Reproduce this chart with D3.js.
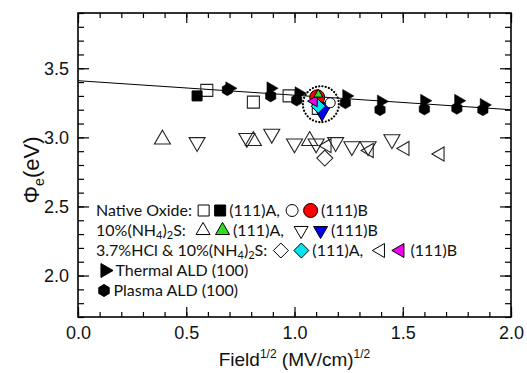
<!DOCTYPE html>
<html><head><meta charset="utf-8">
<script src="https://cdn.jsdelivr.net/npm/d3@7"></script>
<style>body{margin:0;background:#fff}svg{display:block}</style>
</head><body>
<svg id="c" width="527" height="373"></svg>
<script>
// ---------- data ----------
const xMajorTicks = [0.0, 0.5, 1.0, 1.5, 2.0];
const yMajorTicks = [2.0, 2.5, 3.0, 3.5];
const xDomain = [0, 2.0];
const yDomain = [1.7, 3.9];

const fitX = [0.0, 2.0];
const fitY = [3.41, 3.20];

const thermalX = [0.70, 0.89, 1.02, 1.24, 1.40, 1.60, 1.757, 1.875];
const thermalY = [3.355, 3.355, 3.32, 3.30, 3.26, 3.265, 3.265, 3.235];
const plasmaX  = [0.69, 0.89, 1.01, 1.235, 1.395, 1.60, 1.75, 1.87];
const plasmaY  = [3.345, 3.30, 3.27, 3.25, 3.20, 3.205, 3.21, 3.20];

const nativeAOpenX = [0.595, 0.81, 0.975, 1.11];
const nativeAOpenY = [3.34, 3.255, 3.30, 3.21];
const nativeAFillX = [0.55];
const nativeAFillY = [3.30];
const nativeBOpenX = [1.165];
const nativeBOpenY = [3.25];
const nativeBFillX = [1.105];
const nativeBFillY = [3.29];

const nh4AOpenX = [0.39, 0.81, 1.07];
const nh4AOpenY = [2.985, 2.975, 2.975];
const nh4AFillX = [1.11];
const nh4AFillY = [3.31];
const nh4BOpenX = [0.55, 0.78, 0.895, 1.00, 1.10, 1.19, 1.265, 1.34, 1.45];
const nh4BOpenY = [2.965, 2.995, 3.025, 2.955, 2.955, 2.965, 2.935, 2.935, 2.985];
const nh4BFillX = [1.127];
const nh4BFillY = [3.205];

const hclAOpenX = [1.14];
const hclAOpenY = [2.85];
const hclAFillX = [1.11];
const hclAFillY = [3.225];
const hclBOpenX = [1.15, 1.345, 1.51, 1.672];
const hclBOpenY = [2.94, 2.905, 2.92, 2.88];
const hclBFillX = [1.09];
const hclBFillY = [3.262];

const highlightX = [1.122];
const highlightY = [3.24];

// ---------- layout ----------
const W = 527, H = 373;
const m = {l: 78, r: 16, t: 13, b: 56};
const svg = d3.select("#c");
const x = d3.scaleLinear().domain(xDomain).range([m.l, W - m.r]);
const y = d3.scaleLinear().domain(yDomain).range([H - m.b, m.t]);
const x0 = m.l, x1 = W - m.r, y0 = H - m.b, y1 = m.t;

// ---------- shapes ----------
function shape(type, s) {
  const p = d3.path();
  const h = s / 2;
  if (type === "square") { p.rect(-h, -h, s, s); }
  else if (type === "circle") { p.arc(0, 0, h, 0, 2 * Math.PI); }
  else if (type === "diamond") { p.moveTo(0, -h); p.lineTo(h, 0); p.lineTo(0, h); p.lineTo(-h, 0); p.closePath(); }
  else {
    const th = s * 0.866;
    let pts;
    if (type === "up") pts = [[0, -th * 2 / 3], [h, th / 3], [-h, th / 3]];
    if (type === "down") pts = [[0, th * 2 / 3], [h, -th / 3], [-h, -th / 3]];
    if (type === "left") pts = [[-th * 2 / 3, 0], [th / 3, -h], [th / 3, h]];
    if (type === "right") pts = [[th * 2 / 3, 0], [-th / 3, -h], [-th / 3, h]];
    if (type === "hex") pts = d3.range(6).map(i => { const a = Math.PI / 2 + i * Math.PI / 3; return [h * Math.cos(a), h * Math.sin(a)]; });
    p.moveTo(pts[0][0], pts[0][1]);
    pts.slice(1).forEach(q => p.lineTo(q[0], q[1]));
    p.closePath();
  }
  return p.toString();
}

function plot(xs, ys, type, size, fill, stroke, sw) {
  svg.append("g").selectAll("path").data(xs.map((v, i) => [v, ys[i]])).join("path")
    .attr("d", shape(type, size))
    .attr("transform", d => `translate(${x(d[0])},${y(d[1])})`)
    .attr("fill", fill).attr("stroke", stroke).attr("stroke-width", sw);
}

// ---------- axes (ticks inward on all sides) ----------
const xMinor = d3.range(0, 2.0001, 0.1).map(v => +v.toFixed(2));
const yMinor = d3.range(1.7, 3.9001, 0.1).map(v => +v.toFixed(2));
function styleAxis(g) { g.select(".domain").remove(); g.selectAll("line").attr("stroke", "#000").attr("stroke-width", 1.2); }

svg.append("g").attr("transform", `translate(0,${y0})`)
  .call(d3.axisBottom(x).tickValues(xMinor).tickSize(-5).tickFormat("")).call(styleAxis);
svg.append("g").attr("transform", `translate(0,${y0})`)
  .call(d3.axisBottom(x).tickValues(xMajorTicks).tickSize(-10).tickPadding(8).tickFormat(d3.format(".1f")))
  .call(styleAxis)
  .call(g => g.selectAll("text").attr("font-family", "Liberation Sans, Arial, sans-serif").attr("font-size", 18).attr("fill", "#111").attr("dy", "1.05em").attr("y", 3));
svg.append("g").attr("transform", `translate(0,${y1})`)
  .call(d3.axisTop(x).tickValues(xMinor).tickSize(-5).tickFormat("")).call(styleAxis);
svg.append("g").attr("transform", `translate(0,${y1})`)
  .call(d3.axisTop(x).tickValues(xMajorTicks).tickSize(-10).tickFormat("")).call(styleAxis);

svg.append("g").attr("transform", `translate(${x0},0)`)
  .call(d3.axisLeft(y).tickValues(yMinor).tickSize(-6).tickFormat("")).call(styleAxis);
svg.append("g").attr("transform", `translate(${x0},0)`)
  .call(d3.axisLeft(y).tickValues(yMajorTicks).tickSize(-11).tickPadding(9).tickFormat(d3.format(".1f")))
  .call(styleAxis)
  .call(g => g.selectAll("text").attr("font-family", "Liberation Sans, Arial, sans-serif").attr("font-size", 18).attr("fill", "#111").attr("x", -9));
svg.append("g").attr("transform", `translate(${x1},0)`)
  .call(d3.axisRight(y).tickValues(yMinor).tickSize(-6).tickFormat("")).call(styleAxis);
svg.append("g").attr("transform", `translate(${x1},0)`)
  .call(d3.axisRight(y).tickValues(yMajorTicks).tickSize(-11).tickFormat("")).call(styleAxis);

svg.append("rect").attr("x", x0).attr("y", y1).attr("width", x1 - x0).attr("height", y0 - y1)
  .attr("fill", "none").attr("stroke", "#000").attr("stroke-width", 1.6);

// axis titles
const xt = svg.append("text").attr("x", (x0 + x1) / 2 + 0).attr("y", 366).attr("text-anchor", "middle")
  .attr("font-family", "Liberation Sans, Arial, sans-serif").attr("font-size", 19).attr("fill", "#111");
xt.append("tspan").text("Field");
xt.append("tspan").text("1/2").attr("font-size", 12).attr("dy", -8);
xt.append("tspan").text(" (MV/cm)").attr("dy", 8);
xt.append("tspan").text("1/2").attr("font-size", 12).attr("dy", -8);

const yt = svg.append("text").attr("transform", `translate(39,170) rotate(-90)`).attr("text-anchor", "middle")
  .attr("font-family", "Liberation Sans, Arial, sans-serif").attr("font-size", 22).attr("fill", "#111");
yt.append("tspan").text("Φ");
yt.append("tspan").text("e").attr("font-size", 14).attr("dy", 5);
yt.append("tspan").text("(eV)").attr("dy", -5);

// ---------- fit line ----------
svg.append("path").datum(fitX.map((v, i) => [v, fitY[i]]))
  .attr("d", d3.line().x(d => x(d[0])).y(d => y(d[1])))
  .attr("fill", "none").attr("stroke", "#000").attr("stroke-width", 1);

// ---------- data markers ----------
const ink = "#222";
plot(nativeAOpenX, nativeAOpenY, "square", 12, "none", ink, 1.1);
plot(nativeAFillX, nativeAFillY, "square", 10, "#000", "#000", 1);
plot(plasmaX, plasmaY, "hex", 12, "#000", "#000", 0.5);
plot(thermalX, thermalY, "right", 13, "#000", "#000", 0.5);

plot(nh4AOpenX, nh4AOpenY, "up", 16, "none", ink, 1.1);
plot(nh4BOpenX, nh4BOpenY, "down", 16, "none", ink, 1.1);
plot(hclBOpenX, hclBOpenY, "left", 14, "none", ink, 1.1);
plot(hclAOpenX, hclAOpenY, "diamond", 16, "#fff", ink, 1.1);

// highlighted cluster
plot(nativeBFillX, nativeBFillY, "circle", 15, "#ff0000", "#000", 1);
plot(nh4BFillX, nh4BFillY, "down", 21, "#0000ee", "#000", 1);
plot(hclAFillX, hclAFillY, "diamond", 14, "#00e5ee", "#000", 1);
plot(hclBFillX, hclBFillY, "left", 11, "#ee00ee", "#000", 1);
plot(nh4AFillX, nh4AFillY, "up", 9, "#33dd22", "#000", 1);
plot(nativeBOpenX, nativeBOpenY, "circle", 10, "#fff", "#000", 1);

svg.append("g").selectAll("circle").data(highlightX.map((v, i) => [v, highlightY[i]])).join("circle")
  .attr("cx", d => x(d[0])).attr("cy", d => y(d[1])).attr("r", 18)
  .attr("fill", "none").attr("stroke", "#000").attr("stroke-width", 2.2)
  .attr("stroke-dasharray", "0.1,3.2").attr("stroke-linecap", "round");

// ---------- legend ----------
const legFont = "Lato, 'Open Sans', sans-serif";
const legSize = 16;
const legRows = [
  {y: 216, items: [
    {t: [["Native Oxide: "]]},
    {s: "square", size: 11, fill: "#fff"}, {s: "square", size: 11, fill: "#000"},
    {t: [["(111)A, "]]},
    {s: "circle", size: 12, fill: "#fff"}, {s: "circle", size: 14, fill: "#ff0000"},
    {t: [["(111)B"]]}]},
  {y: 236, items: [
    {t: [["10%(NH"], ["4", "sub"], [")"], ["2", "sub"], ["S:  "]]},
    {s: "up", size: 14, fill: "#fff"}, {s: "up", size: 14, fill: "#33dd22"},
    {t: [["(111)A,  "]]},
    {s: "down", size: 14, fill: "#fff"}, {s: "down", size: 14, fill: "#0000ee"},
    {t: [["(111)B"]]}]},
  {y: 256, items: [
    {t: [["3.7%HCl & 10%(NH"], ["4", "sub"], [")"], ["2", "sub"], ["S: "]]},
    {s: "diamond", size: 15, fill: "#fff"}, {s: "diamond", size: 15, fill: "#00e5ee"},
    {t: [["(111)A,  "]]},
    {s: "left", size: 14, fill: "#fff"}, {s: "left", size: 14, fill: "#ee00ee"},
    {t: [["(111)B"]]}]},
  {y: 276, items: [{s: "right", size: 14, fill: "#000"}, {t: [["Thermal ALD (100)"]]}]},
  {y: 296, items: [{s: "hex", size: 12, fill: "#000"}, {t: [["Plasma ALD (100)"]]}]}
];
const leg = svg.append("g");
legRows.forEach(row => {
  let cx = 96;
  row.items.forEach(it => {
    if (it.t) {
      const te = leg.append("text").attr("x", cx).attr("y", row.y)
        .attr("font-family", legFont).attr("font-size", legSize).attr("fill", "#111")
        .attr("xml:space", "preserve").style("white-space", "pre");
      it.t.forEach(seg => {
        const ts = te.append("tspan").text(seg[0]);
        if (seg[1] === "sub") ts.attr("font-size", 11).attr("baseline-shift", "-25%");
      });
      cx += te.node().getComputedTextLength();
    } else {
      const w = it.size + 4;
      leg.append("path").attr("d", shape(it.s, it.size))
        .attr("transform", `translate(${cx + w / 2},${row.y - 5.5})`)
        .attr("fill", it.fill).attr("stroke", "#000").attr("stroke-width", 1);
      cx += w + 1.5;
    }
  });
});
</script>
</body></html>
